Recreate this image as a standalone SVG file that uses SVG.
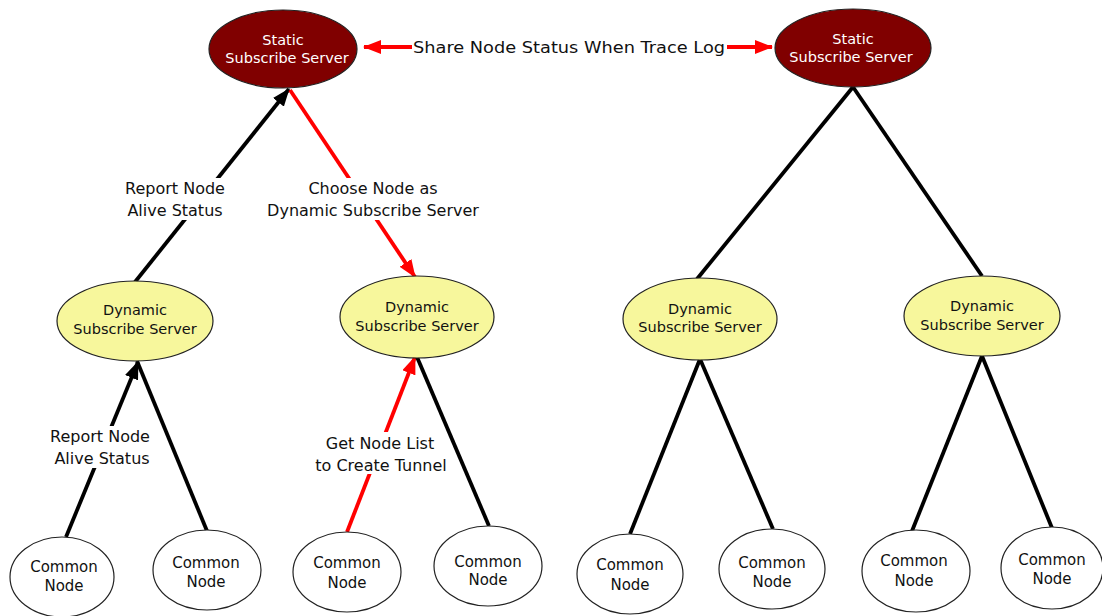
<svg xmlns="http://www.w3.org/2000/svg" width="1102" height="616" viewBox="0 0 1102 616">
<defs>
<style>
.st{fill:#800000;stroke:#222;stroke-width:1.2}
.dy{fill:#f7f79c;stroke:#222;stroke-width:1.2}
.cm{fill:#fff;stroke:#222;stroke-width:1.2}
.nt{font-family:"DejaVu Sans",sans-serif;font-size:14.5px;text-anchor:middle}
.cn{font-family:"DejaVu Sans",sans-serif;font-size:15px;text-anchor:middle}
.wt{fill:#fff}
.bk{fill:#111}
.lb{font-family:"DejaVu Sans",sans-serif;font-size:16px;text-anchor:middle;fill:#111}
.lk{stroke:#000;stroke-width:3.8;fill:none}
.lr{stroke:#ff0000;stroke-width:3.8;fill:none}
</style>
<marker id="ak" markerUnits="userSpaceOnUse" markerWidth="18" markerHeight="14" refX="17" refY="7" orient="auto"><path d="M0,0 L18,7 L0,14 Z" fill="#000"/></marker>
<marker id="ar" markerUnits="userSpaceOnUse" markerWidth="18" markerHeight="14" refX="17" refY="7" orient="auto"><path d="M0,0 L18,7 L0,14 Z" fill="#ff0000"/></marker>
<marker id="ars" markerUnits="userSpaceOnUse" markerWidth="18" markerHeight="14" refX="1" refY="7" orient="auto"><path d="M18,0 L0,7 L18,14 Z" fill="#ff0000"/></marker>
</defs>
<rect width="1102" height="616" fill="#fff"/>
<g id="connectors">
<line class="lr" x1="364" y1="47" x2="772" y2="47" marker-start="url(#ars)" marker-end="url(#ar)"/>
<rect x="412" y="36" width="315" height="22" fill="#fff"/>
<text class="lb" x="569" y="53" textLength="312" lengthAdjust="spacingAndGlyphs">Share Node Status When Trace Log</text>
<line class="lk" x1="135" y1="282" x2="289" y2="89" marker-end="url(#ak)"/>
<rect x="122" y="178" width="106" height="42" fill="#fff"/>
<text class="lb" x="175" y="194">Report Node</text>
<text class="lb" x="175" y="216">Alive Status</text>
<line class="lr" x1="290" y1="90" x2="415" y2="277" marker-end="url(#ar)"/>
<rect x="268" y="178" width="210" height="42" fill="#fff"/>
<text class="lb" x="373" y="194">Choose Node as</text>
<text class="lb" x="373" y="216">Dynamic Subscribe Server</text>
<line class="lk" x1="853" y1="87" x2="697" y2="279"/>
<line class="lk" x1="853" y1="87" x2="982" y2="276"/>
<line class="lk" x1="66" y1="537" x2="138" y2="362" marker-end="url(#ak)"/>
<rect x="48" y="426" width="106" height="42" fill="#fff"/>
<text class="lb" x="100" y="442">Report Node</text>
<text class="lb" x="102" y="464">Alive Status</text>
<line class="lk" x1="137" y1="361" x2="207" y2="531"/>
<line class="lr" x1="347" y1="532" x2="415" y2="357" marker-end="url(#ar)"/>
<rect x="311" y="432" width="140" height="42" fill="#fff"/>
<text class="lb" x="380" y="449">Get Node List</text>
<text class="lb" x="381" y="471">to Create Tunnel</text>
<line class="lk" x1="417" y1="357" x2="489" y2="526"/>
<line class="lk" x1="700" y1="359" x2="630" y2="534"/>
<line class="lk" x1="700" y1="359" x2="773" y2="529"/>
<line class="lk" x1="982" y1="356" x2="912" y2="531"/>
<line class="lk" x1="982" y1="356" x2="1052" y2="528"/>
</g>
<g id="static1"><ellipse class="st" cx="283" cy="49" rx="74" ry="39"/><text class="nt wt" x="283" y="45">Static</text><text class="nt wt" x="287" y="63">Subscribe Server</text></g>
<g id="static2"><ellipse class="st" cx="853" cy="48" rx="78" ry="39"/><text class="nt wt" x="853" y="44">Static</text><text class="nt wt" x="851" y="62">Subscribe Server</text></g>
<g id="dyn1"><ellipse class="dy" cx="135" cy="321" rx="78" ry="40"/><text class="nt bk" x="135" y="315">Dynamic</text><text class="nt bk" x="135" y="334">Subscribe Server</text></g>
<g id="dyn2"><ellipse class="dy" cx="417" cy="317" rx="77" ry="41"/><text class="nt bk" x="417" y="312">Dynamic</text><text class="nt bk" x="417" y="331">Subscribe Server</text></g>
<g id="dyn3"><ellipse class="dy" cx="700" cy="319" rx="77" ry="41"/><text class="nt bk" x="700" y="314">Dynamic</text><text class="nt bk" x="700" y="332">Subscribe Server</text></g>
<g id="dyn4"><ellipse class="dy" cx="982" cy="316" rx="78" ry="40"/><text class="nt bk" x="982" y="311">Dynamic</text><text class="nt bk" x="982" y="330">Subscribe Server</text></g>
<g id="common1"><ellipse class="cm" cx="62" cy="577" rx="52" ry="40"/><text class="cn bk" x="64" y="572">Common</text><text class="cn bk" x="64" y="591">Node</text></g>
<g id="common2"><ellipse class="cm" cx="207" cy="570" rx="54" ry="40"/><text class="cn bk" x="206" y="568">Common</text><text class="cn bk" x="206" y="587">Node</text></g>
<g id="common3"><ellipse class="cm" cx="347" cy="572" rx="54" ry="40"/><text class="cn bk" x="347" y="568">Common</text><text class="cn bk" x="347" y="588">Node</text></g>
<g id="common4"><ellipse class="cm" cx="488" cy="566" rx="54" ry="40"/><text class="cn bk" x="488" y="567">Common</text><text class="cn bk" x="488" y="585">Node</text></g>
<g id="common5"><ellipse class="cm" cx="630" cy="574" rx="53" ry="40"/><text class="cn bk" x="630" y="570">Common</text><text class="cn bk" x="630" y="590">Node</text></g>
<g id="common6"><ellipse class="cm" cx="772" cy="569" rx="53" ry="40"/><text class="cn bk" x="772" y="568">Common</text><text class="cn bk" x="772" y="587">Node</text></g>
<g id="common7"><ellipse class="cm" cx="916" cy="571" rx="54" ry="41"/><text class="cn bk" x="914" y="566">Common</text><text class="cn bk" x="914" y="586">Node</text></g>
<g id="common8"><ellipse class="cm" cx="1052" cy="568" rx="51" ry="41"/><text class="cn bk" x="1052" y="565">Common</text><text class="cn bk" x="1052" y="584">Node</text></g>
</svg>
